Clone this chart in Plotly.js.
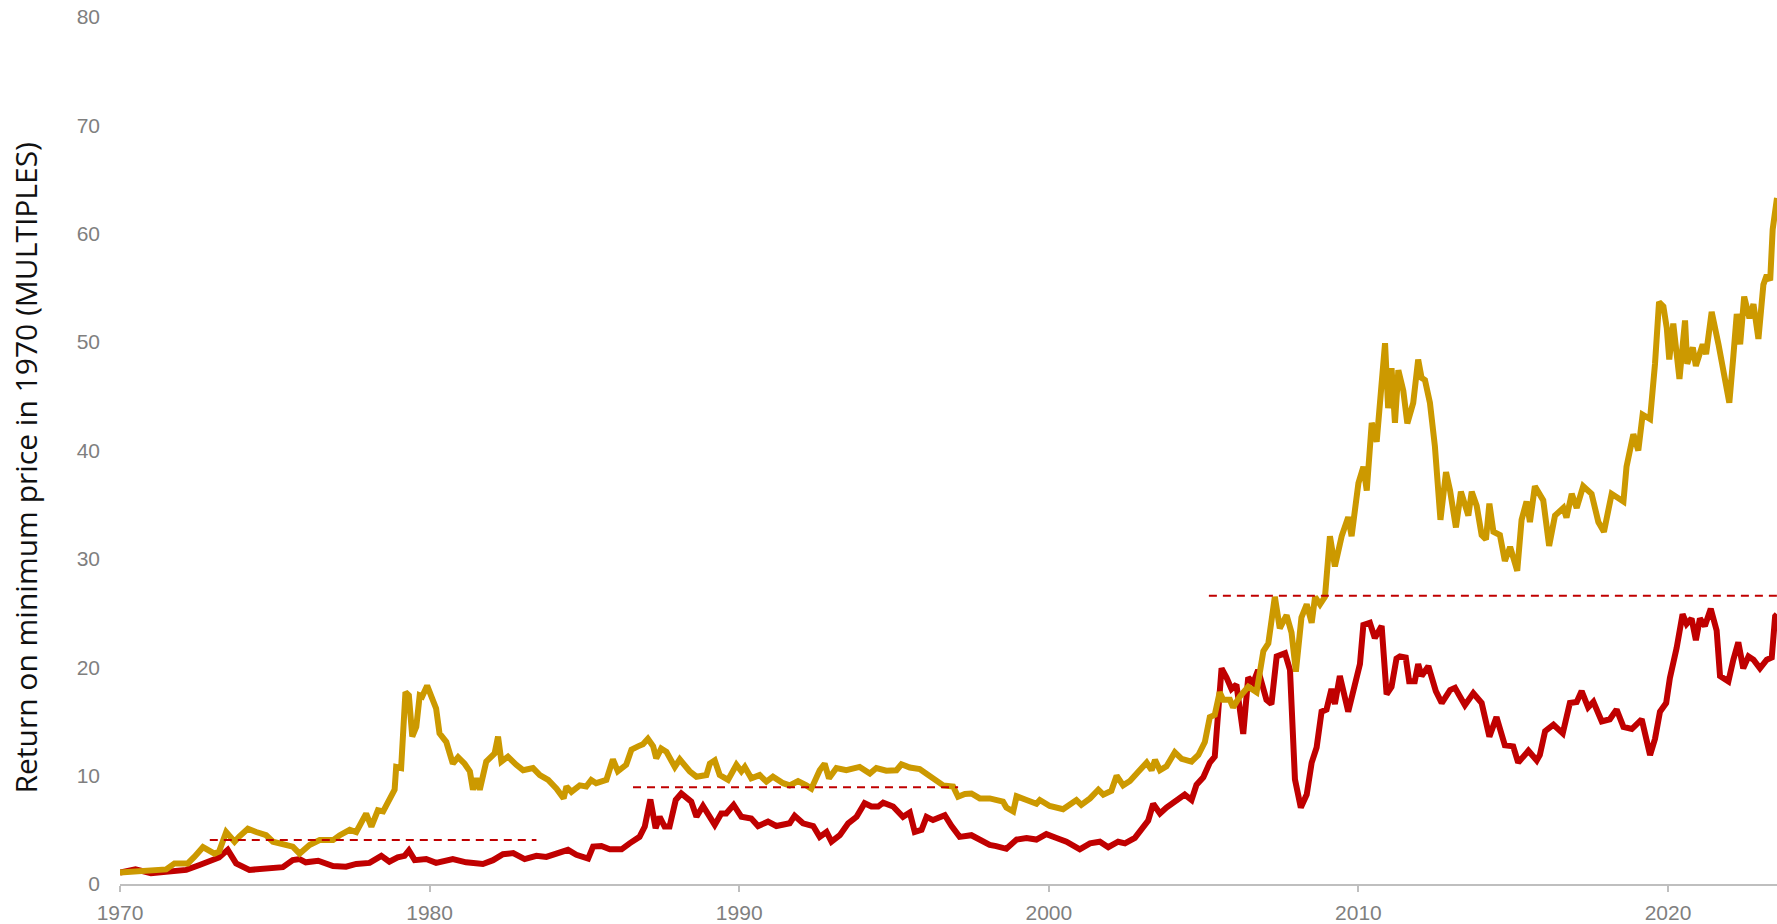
<!DOCTYPE html>
<html>
<head>
<meta charset="utf-8">
<script src="https://cdn.plot.ly/plotly-3.0.1.min.js"></script>
<style>
html, body { margin: 0; padding: 0; background: #ffffff; }
#chart { width: 1777px; height: 924px; }
</style>
</head>
<body>
<div id="chart"></div>
<script>
// ---- data ----
var goldYears = [
1970.0,1970.7,1971.1,1971.49,1971.76,1972.19,1972.4,1972.68,1973.05,1973.2,1973.43,1973.7,1973.86,1974.13,1974.4,1974.72,1974.94,1975.37,1975.58,1975.8,
1976.12,1976.45,1976.88,1977.1,1977.42,1977.63,1977.95,1978.12,1978.33,1978.5,1978.7,1978.87,1978.92,1979.08,1979.22,1979.33,1979.44,1979.57,1979.68,1979.76,
1979.92,1980.1,1980.21,1980.32,1980.54,1980.75,1980.92,1981.13,1981.3,1981.4,1981.51,1981.62,1981.83,1982.1,1982.21,1982.32,1982.53,1982.8,1983.02,1983.34,
1983.56,1983.83,1984.1,1984.33,1984.42,1984.58,1984.85,1985.06,1985.22,1985.38,1985.71,1985.92,1986.08,1986.35,1986.52,1986.73,1986.89,1987.05,1987.22,1987.32,
1987.48,1987.65,1987.92,1988.08,1988.4,1988.62,1988.94,1989.05,1989.21,1989.37,1989.64,1989.91,1990.07,1990.18,1990.39,1990.66,1990.88,1991.09,1991.42,1991.63,
1991.9,1992.17,1992.33,1992.6,1992.76,1992.9,1993.14,1993.46,1993.89,1994.22,1994.43,1994.75,1995.08,1995.24,1995.51,1995.83,1996.05,1996.32,1996.59,1996.91,
1997.07,1997.29,1997.5,1997.77,1998.09,1998.52,1998.63,1998.85,1998.96,1999.28,1999.6,1999.71,2000.03,2000.46,2000.89,2001.05,2001.33,2001.6,2001.76,2002.02,
2002.19,2002.4,2002.62,2002.89,2003.16,2003.32,2003.43,2003.59,2003.8,2004.07,2004.29,2004.61,2004.83,2005.04,2005.2,2005.36,2005.52,2005.63,2005.85,2005.95,
2006.17,2006.44,2006.71,2006.93,2007.09,2007.3,2007.46,2007.68,2007.84,2007.98,2008.16,2008.33,2008.49,2008.6,2008.76,2008.92,2009.08,2009.24,2009.46,2009.67,
2009.78,2010.0,2010.16,2010.27,2010.43,2010.59,2010.7,2010.86,2010.96,2011.07,2011.18,2011.29,2011.45,2011.58,2011.77,2011.93,2012.04,2012.15,2012.31,2012.36,
2012.47,2012.65,2012.83,2012.96,2013.15,2013.31,2013.44,2013.55,2013.66,2013.82,2013.98,2014.12,2014.23,2014.36,2014.57,2014.73,2014.9,2015.13,2015.27,2015.43,
2015.54,2015.7,2015.97,2016.16,2016.35,2016.62,2016.72,2016.89,2017.05,2017.26,2017.53,2017.75,2017.93,2018.18,2018.56,2018.66,2018.88,2019.04,2019.18,2019.42,
2019.58,2019.71,2019.85,2019.96,2020.04,2020.17,2020.37,2020.55,2020.62,2020.8,2020.9,2021.12,2021.23,2021.41,2021.63,2021.84,2021.98,2022.11,2022.22,2022.33,
2022.46,2022.63,2022.76,2022.92,2023.08,2023.19,2023.3,2023.38,2023.52
];
var goldValues = [
1.05,1.15,1.25,1.35,1.9,1.9,2.5,3.4,2.8,3.0,4.8,3.9,4.4,5.1,4.8,4.5,3.9,3.6,3.45,2.8,
3.6,4.05,4.05,4.5,5.0,4.8,6.5,5.3,6.8,6.7,7.75,8.7,10.8,10.7,17.7,17.4,13.6,14.5,17.4,17.3,
18.3,16.8,16.2,13.9,13.1,11.1,11.7,11.1,10.4,8.7,9.75,8.7,11.3,12.05,13.6,11.3,11.75,11.0,10.5,10.7,
10.05,9.6,8.8,7.9,9.0,8.5,9.1,9.0,9.6,9.3,9.6,11.5,10.4,11.0,12.4,12.7,12.9,13.4,12.7,11.6,
12.5,12.2,10.8,11.5,10.4,9.9,10.05,11.1,11.4,10.05,9.6,11.0,10.4,10.8,9.75,10.05,9.45,9.9,9.3,9.1,
9.5,9.1,8.8,10.5,11.1,9.75,10.7,10.5,10.8,10.2,10.7,10.45,10.5,11.05,10.75,10.6,10.2,9.75,9.1,9.0,
8.05,8.3,8.35,7.9,7.9,7.6,7.05,6.7,8.1,7.75,7.4,7.75,7.2,6.9,7.75,7.3,7.9,8.7,8.25,8.6,
10.0,9.1,9.5,10.35,11.2,10.5,11.45,10.5,10.85,12.15,11.55,11.3,11.9,13.1,15.4,15.6,17.7,17.0,17.0,16.3,
17.3,18.2,17.7,21.5,22.2,26.5,23.6,24.8,23.2,19.6,24.6,25.8,24.1,26.5,25.8,26.5,32.1,29.3,32.1,33.85,
32.1,37.0,38.5,36.3,42.55,40.8,44.1,49.9,43.9,47.6,42.55,47.4,45.5,42.5,44.4,48.4,46.7,46.5,44.4,43.1,
40.4,33.6,38.0,36.3,32.9,36.2,34.9,34.0,36.2,34.9,32.2,31.8,35.1,32.5,32.2,29.8,31.1,28.9,33.6,35.3,
33.4,36.7,35.4,31.2,34.0,34.7,33.8,36.0,34.7,36.7,36.0,33.4,32.5,36.0,35.3,38.5,41.5,40.0,43.3,42.9,
48.0,53.7,53.3,51.3,48.4,51.7,46.6,52.0,48.0,49.5,47.8,49.8,48.9,52.8,49.8,46.6,44.4,48.7,52.6,49.8,
54.2,52.2,53.5,50.3,55.3,56.2,55.7,60.4,63.3
];

var redYears = [
1970.0,1970.5,1971.0,1971.6,1972.14,1972.57,1972.9,1973.2,1973.48,1973.75,1974.18,1974.72,1975.26,1975.58,1975.8,1976.0,1976.4,1976.88,1977.3,1977.63,
1978.06,1978.44,1978.7,1978.97,1979.19,1979.33,1979.52,1979.89,1980.21,1980.75,1981.18,1981.72,1982.05,1982.37,1982.7,1983.07,1983.45,1983.77,1984.04,1984.2,
1984.47,1984.74,1985.12,1985.28,1985.55,1985.82,1986.2,1986.46,1986.78,1986.95,1987.13,1987.3,1987.43,1987.59,1987.75,1987.95,1988.13,1988.45,1988.62,1988.83,
1989.21,1989.42,1989.58,1989.82,1990.07,1990.39,1990.61,1990.93,1991.2,1991.63,1991.79,1992.06,1992.39,1992.6,1992.82,1992.98,1993.25,1993.52,1993.79,1994.05,
1994.27,1994.49,1994.65,1994.97,1995.29,1995.51,1995.67,1995.89,1996.05,1996.26,1996.64,1996.86,1997.12,1997.5,1997.77,1998.09,1998.3,1998.63,1998.96,1999.28,
1999.6,1999.92,2000.25,2000.57,2001.0,2001.33,2001.65,2001.92,2002.24,2002.46,2002.78,2003.0,2003.21,2003.37,2003.59,2003.8,2004.02,2004.18,2004.39,2004.61,
2004.77,2004.99,2005.2,2005.36,2005.47,2005.58,2005.74,2005.9,2006.06,2006.28,2006.44,2006.6,2006.76,2006.92,2007.03,2007.19,2007.36,2007.63,2007.79,2007.95,
2008.14,2008.33,2008.49,2008.65,2008.81,2008.97,2009.13,2009.24,2009.4,2009.67,2009.89,2010.05,2010.16,2010.37,2010.53,2010.75,2010.91,2011.07,2011.23,2011.34,
2011.53,2011.64,2011.82,2011.93,2012.04,2012.26,2012.5,2012.69,2012.96,2013.12,2013.26,2013.44,2013.71,2013.98,2014.23,2014.46,2014.73,2015.0,2015.16,2015.49,
2015.76,2015.86,2016.03,2016.3,2016.6,2016.83,2017.05,2017.21,2017.42,2017.59,2017.86,2018.12,2018.34,2018.56,2018.83,2019.15,2019.42,2019.58,2019.74,2019.94,
2020.06,2020.28,2020.47,2020.6,2020.76,2020.9,2021.03,2021.19,2021.38,2021.57,2021.68,2021.95,2022.11,2022.27,2022.43,2022.6,2022.76,2022.97,2023.19,2023.35,
2023.46,2023.52
];
var redValues = [
1.05,1.35,1.0,1.15,1.3,1.75,2.15,2.45,3.15,1.9,1.3,1.45,1.55,2.2,2.3,2.0,2.15,1.65,1.6,1.85,
1.95,2.6,2.05,2.45,2.6,3.1,2.2,2.3,1.95,2.3,2.0,1.85,2.2,2.75,2.85,2.3,2.6,2.5,2.75,3.0,
3.15,2.7,2.35,3.45,3.5,3.2,3.2,3.75,4.35,5.3,7.8,5.15,6.2,5.3,5.3,7.75,8.35,7.6,6.2,7.2,
5.45,6.5,6.5,7.3,6.2,6.05,5.35,5.75,5.35,5.6,6.3,5.6,5.35,4.35,4.8,3.9,4.5,5.6,6.2,7.45,
7.15,7.15,7.5,7.15,6.2,6.6,4.8,5.0,6.2,5.9,6.35,5.35,4.35,4.5,4.05,3.6,3.5,3.25,4.1,4.25,
4.1,4.6,4.25,3.9,3.2,3.75,3.9,3.4,3.9,3.75,4.25,5.15,5.85,7.4,6.5,7.05,7.55,7.9,8.25,7.75,
9.15,9.85,11.2,11.75,16.3,19.9,19.05,18.0,18.4,13.85,19.05,18.55,19.75,18.35,17.0,16.6,21.0,21.3,19.75,9.65,
7.05,8.25,11.2,12.6,15.9,16.1,18.0,16.6,19.2,15.9,18.2,20.3,23.9,24.1,22.7,23.8,17.5,18.2,20.8,21.0,
20.9,18.7,18.7,20.3,19.2,20.1,17.8,16.7,17.9,18.1,17.4,16.5,17.6,16.7,13.6,15.4,12.8,12.7,11.2,12.3,
11.4,11.9,14.1,14.7,13.9,16.7,16.8,17.8,16.3,16.8,15.0,15.2,16.1,14.5,14.3,15.2,11.9,13.4,15.9,16.7,
19.0,21.8,24.9,24.0,24.5,22.5,24.5,23.8,25.4,23.4,19.2,18.7,20.7,22.3,19.9,21.0,20.7,19.9,20.7,20.9,
24.7,24.9
];

// dashed reference levels
var refStarts = [1972.9, 1986.57, 2005.17];
var refEnds   = [1983.45, 1997.07, 2023.52];
var refLevels = [4.05, 8.92, 26.6];

var tickYears = [1970, 1980, 1990, 2000, 2010, 2020];
var tickLabels = ['1970', '1980', '1990', '2000', '2010', '2020'];
var yTicks = [0, 10, 20, 30, 40, 50, 60, 70, 80];
var yTitle = 'Return on minimum price in 1970 (MULTIPLES)';

// ---- traces ----
var traces = [];
traces.push({
  x: redYears, y: redValues, type: 'scatter', mode: 'lines',
  line: { color: '#C00000', width: 6 }, hoverinfo: 'skip', showlegend: false
});
traces.push({
  x: goldYears, y: goldValues, type: 'scatter', mode: 'lines',
  line: { color: '#CC9900', width: 6 }, hoverinfo: 'skip', showlegend: false
});
for (var i = 0; i < refLevels.length; i++) {
  traces.push({
    x: [refStarts[i], refEnds[i]], y: [refLevels[i], refLevels[i]],
    type: 'scatter', mode: 'lines',
    line: { color: '#C00000', width: 2, dash: '8px,6px' },
    hoverinfo: 'skip', showlegend: false
  });
}

var layout = {
  width: 1777, height: 924,
  margin: { l: 120, r: 0, t: 17, b: 40, pad: 0 },
  paper_bgcolor: '#ffffff', plot_bgcolor: '#ffffff',
  showlegend: false,
  xaxis: {
    range: [1970, 2023.52], tickvals: tickYears, ticktext: tickLabels,
    showgrid: false, zeroline: false,
    showline: true, linecolor: '#BFBFBF', linewidth: 2,
    ticks: 'outside', ticklen: 6, tickwidth: 2, tickcolor: '#BFBFBF',
    tickfont: { family: 'Liberation Sans, Arial, sans-serif', size: 21, color: '#7F7F7F' },
    ticklabelstandoff: 3,
    automargin: false, fixedrange: true
  },
  yaxis: {
    range: [0, 80], tickvals: yTicks,
    showgrid: false, zeroline: false, showline: false, ticks: '',
    tickfont: { family: 'Liberation Sans, Arial, sans-serif', size: 21, color: '#7F7F7F' },
    ticklabelstandoff: 19,
    automargin: false, fixedrange: true
  },
  annotations: [{
    text: yTitle, xref: 'paper', yref: 'paper',
    x: -0.0573, y: 0.4804, xanchor: 'center', yanchor: 'middle',
    textangle: -90, showarrow: false,
    font: { family: 'Open Sans, sans-serif', size: 30, color: '#111111' }
  }]
};

Plotly.newPlot('chart', traces, layout, { staticPlot: true, displayModeBar: false });
</script>
</body>
</html>
